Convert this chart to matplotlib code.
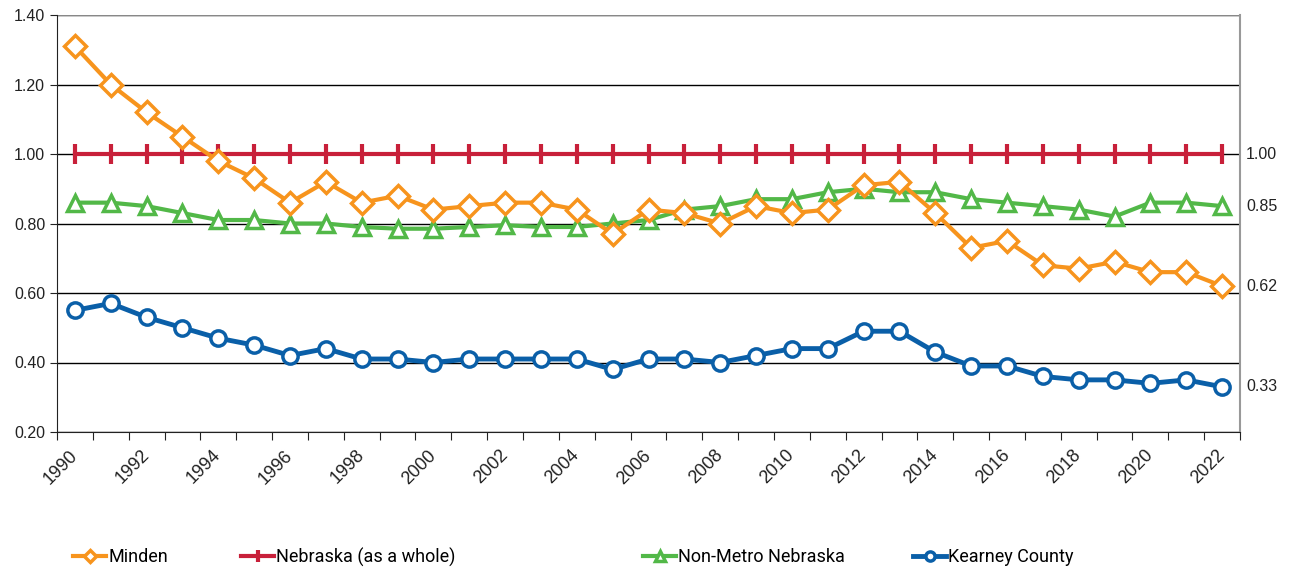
import numpy as np
import matplotlib.pyplot as plt
import matplotlib.transforms as mtransforms

# Per-capita ratios
years = list(range(1990, 2023))

minden = [1.31, 1.20, 1.12, 1.05, 0.98, 0.93, 0.86, 0.92, 0.86, 0.88,
          0.84, 0.85, 0.86, 0.86, 0.84, 0.77, 0.84, 0.83, 0.80, 0.85,
          0.83, 0.84, 0.91, 0.92, 0.83, 0.73, 0.75, 0.68, 0.67, 0.69,
          0.66, 0.66, 0.62]
nebraska = [1.00] * 33
non_metro = [0.86, 0.86, 0.85, 0.83, 0.81, 0.81, 0.80, 0.80, 0.79, 0.785,
             0.785, 0.79, 0.795, 0.79, 0.79, 0.80, 0.81, 0.84, 0.85, 0.87,
             0.87, 0.89, 0.90, 0.89, 0.89, 0.87, 0.86, 0.85, 0.84, 0.82,
             0.86, 0.86, 0.85]
kearney = [0.55, 0.57, 0.53, 0.50, 0.47, 0.45, 0.42, 0.44, 0.41, 0.41,
           0.40, 0.41, 0.41, 0.41, 0.41, 0.38, 0.41, 0.41, 0.40, 0.42,
           0.44, 0.44, 0.49, 0.49, 0.43, 0.39, 0.39, 0.36, 0.35, 0.35,
           0.34, 0.35, 0.33]

end_labels = ['1.00', '0.85', '0.62', '0.33']
end_values = [1.00, 0.85, 0.62, 0.33]

ORANGE = '#F7941D'
RED = '#C8203A'
GREEN = '#52B848'
BLUE = '#0A5FA8'
TXT = '#222222'

plt.rcParams['font.family'] = ['Liberation Sans', 'DejaVu Sans']

fig = plt.figure(figsize=(12.9, 5.71), dpi=100)
ax = fig.add_axes([57 / 1290, 1 - 432 / 571, (1240 - 57) / 1290, (432 - 15) / 571])

x = np.arange(len(years))

l1, = ax.plot(x, minden, color=ORANGE, lw=3, marker='D', ms=11, mfc='white',
              mec=ORANGE, mew=2.5, label='Minden', zorder=4)
l2, = ax.plot(x, nebraska, color=RED, lw=3, marker='|', ms=14, mew=3,
              label='Nebraska (as a whole)', zorder=3)
l3, = ax.plot(x, non_metro, color=GREEN, lw=3, marker='^', ms=11, mfc='white',
              mec=GREEN, mew=2.5, label='Non-Metro Nebraska', zorder=3)
l4, = ax.plot(x, kearney, color=BLUE, lw=3.5, marker='o', ms=11, mfc='white',
              mec=BLUE, mew=2.5, label='Kearney County', zorder=3)

ax.set_xlim(-0.5, len(years) - 0.5)
ax.set_ylim(0.2, 1.4)
yt = np.arange(0.2, 1.41, 0.2)
ax.set_yticks(yt)
ax.set_yticklabels(['%.2f' % v for v in yt], fontsize=11.5, color=TXT)
ax.grid(axis='y', color='black', lw=1)
ax.set_axisbelow(True)

# tick marks on category boundaries, labels on even-year centres
ax.set_xticks(np.arange(-0.5, len(years), 1.0))
ax.set_xticklabels([])
ax.tick_params(axis='x', which='major', length=6, color=TXT)
ax.set_xticks(x[::2], minor=True)
ax.set_xticklabels([str(y) for y in years[::2]], minor=True, rotation=45,
                   ha='right', va='center', rotation_mode='anchor', fontsize=13, color=TXT)
ax.tick_params(axis='x', which='minor', length=0, pad=15)
ax.tick_params(axis='y', length=5, color=TXT)

ax.spines['top'].set_visible(False)
ax.spines['right'].set_color('#999999')
ax.spines['right'].set_linewidth(1.5)
ax.spines['left'].set_color(TXT)
ax.spines['bottom'].set_color(TXT)
ax.axhline(1.4, color='#888888', lw=1.5, zorder=1)

trans = mtransforms.blended_transform_factory(ax.transAxes, ax.transData)
for lab, v in zip(end_labels, end_values):
    ax.text(1.005, v, lab, transform=trans, ha='left', va='center',
            fontsize=11.5, color=TXT)

# legend entries spread like the original (one legend per entry)
leg_x = [73, 241, 643, 913]
for h, lx in zip([l1, l2, l3, l4], leg_x):
    leg = fig.legend(handles=[h], loc='center left',
                     bbox_to_anchor=(lx / 1290, 1 - 557 / 571),
                     frameon=False, fontsize=13, handlelength=1.85,
                     handletextpad=0.1, borderpad=0, borderaxespad=0,
                     markerscale=0.6)
    for t in leg.get_texts():
        t.set_family(['Roboto', 'DejaVu Sans'])

fig.savefig('out.png', dpi=100, facecolor='white')
